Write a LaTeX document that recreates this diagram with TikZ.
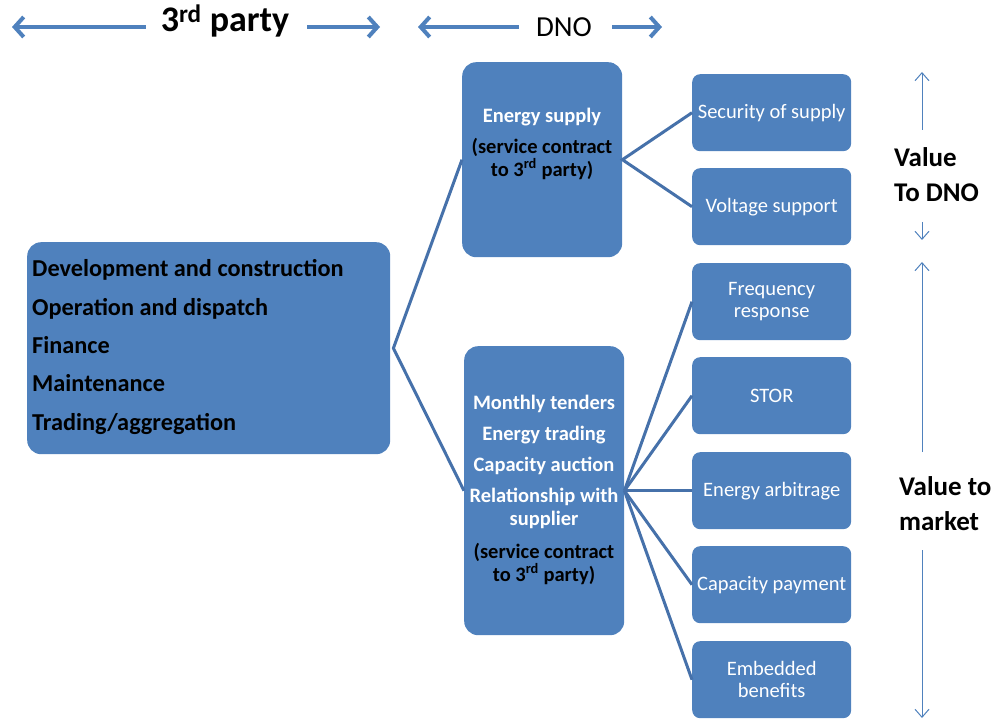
\documentclass[tikz,border=0pt]{standalone}
\usepackage{fontspec}
\setmainfont{Carlito}
\usetikzlibrary{arrows.meta}
\definecolor{boxblue}{HTML}{4F81BD}
\definecolor{linkblue}{HTML}{4671AA}
\definecolor{arrowblue}{HTML}{4F81BD}
\begin{document}
\begin{tikzpicture}[x=1pt,y=-1pt,
  bigbox/.style={fill=boxblue, rounded corners=14pt, inner sep=0pt},
  smallbox/.style={fill=boxblue, rounded corners=8pt, inner sep=0pt, minimum width=159pt, minimum height=77pt, text=white, align=center, font=\fontsize{20.5}{22}\selectfont},
  link/.style={draw=linkblue, line width=3pt},
  toparrow/.style={draw=arrowblue, line width=4pt, -{Straight Barb[length=9pt,width=20pt]}},
  sidearrow/.style={draw=arrowblue, line width=1pt, -{Straight Barb[length=8pt,width=14pt]}},
  whitebold/.style={text=white, font=\fontsize{20.5}{23}\selectfont\bfseries, align=center}
]
\useasboundingbox (0,0) rectangle (1002,719);

% top labels
\node[font=\fontsize{36}{36}\selectfont\bfseries, inner sep=0pt] (tp) at (225,21) {3\textsuperscript{rd} party};
\node[font=\fontsize{29}{29}\selectfont, inner sep=0pt] (dno) at (564,27) {DNO};
\coordinate (tpL) at (12,27);
\coordinate (tpR) at (380,27);
\coordinate (dnoL) at (418,27);
\coordinate (dnoR) at (662,27);
\draw[toparrow] ([xshift=-15pt]tp.west |- tpL) -- (tpL);
\draw[toparrow] ([xshift=18pt]tp.east |- tpR) -- (tpR);
\draw[toparrow] ([xshift=-17pt]dno.west |- dnoL) -- (dnoL);
\draw[toparrow] ([xshift=20pt]dno.east |- dnoR) -- (dnoR);

% left box
\node[bigbox, minimum width=363pt, minimum height=212pt, anchor=north west] (main) at (27,242) {};
\node[anchor=west, align=left, inner sep=0pt, font=\fontsize{24.3}{38.3}\selectfont\bfseries] (maintxt) at (32,347) {Development and construction\\Operation and dispatch\\Finance\\Maintenance\\Trading/aggregation};

% middle boxes
\node[bigbox, minimum width=160pt, minimum height=195pt, anchor=north west] (es) at (462,62) {};
\node[whitebold, inner sep=0pt] (estitle) at (542,117) {Energy supply};
\node[font=\fontsize{20.5}{23}\selectfont\bfseries, align=center, inner sep=0pt] (esnote) at (542,159) {(service contract\\to 3\textsuperscript{rd} party)};

\node[bigbox, minimum width=160pt, minimum height=289pt, anchor=north west] (low) at (464,346) {};
\node[whitebold, inner sep=0pt] (lowtxt) at (544,462) {Monthly tenders\\[8pt]Energy trading\\[8pt]Capacity auction\\[8pt]Relationship with\\supplier};
\node[font=\fontsize{20.5}{23}\selectfont\bfseries, align=center, inner sep=0pt] (lownote) at (544,564) {(service contract\\to 3\textsuperscript{rd} party)};

% right boxes
\node[smallbox, anchor=north west] (sec) at (692,74) {Security of supply};
\node[smallbox, anchor=north west] (volt) at (692,168) {Voltage support};
\node[smallbox, anchor=north west] (freq) at (692,263) {Frequency\\response};
\node[smallbox, anchor=north west] (stor) at (692,357) {STOR};
\node[smallbox, anchor=north west] (arb) at (692,452) {Energy arbitrage};
\node[smallbox, anchor=north west] (cap) at (692,546) {Capacity payment};
\node[smallbox, anchor=north west] (emb) at (692,641) {Embedded\\benefits};

% connectors
\draw[link] (es.west) -- ([xshift=3pt]main.east) -- (low.west);
\draw[link] (sec.west) -- (es.east) -- (volt.west);
\foreach \t in {freq,stor,arb,cap,emb} \draw[link] (low.east) -- (\t.west);

% right value labels
\node[font=\fontsize{27}{35}\selectfont\bfseries, align=left, inner sep=0pt, anchor=west] (vdno) at (894,175) {Value\\To DNO};
\node[font=\fontsize{27}{35}\selectfont\bfseries, align=left, inner sep=0pt, anchor=west] (vmkt) at (899,504) {Value to\\market};
\coordinate (vdnoT) at (922,72);
\coordinate (vdnoB) at (922,240);
\coordinate (vmktT) at (922,262);
\coordinate (vmktB) at (922,718);
\draw[sidearrow] (922,130) -- (vdnoT);
\draw[sidearrow] (922,222) -- (vdnoB);
\draw[sidearrow] (922,452) -- (vmktT);
\draw[sidearrow] (922,550) -- (vmktB);
\end{tikzpicture}
\end{document}
